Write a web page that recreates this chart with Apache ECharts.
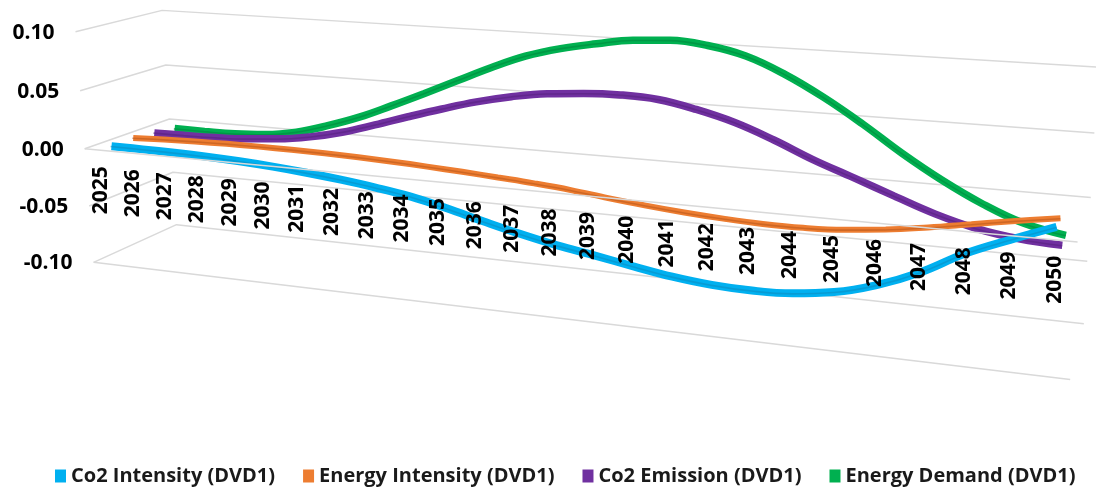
<!DOCTYPE html>
<html>
<head>
<meta charset="utf-8">
<script src="https://cdn.jsdelivr.net/npm/echarts/dist/echarts.min.js"></script>
<style>
  html, body { margin: 0; padding: 0; background: #ffffff; }
  #chart { width: 1096px; height: 491px; }
</style>
</head>
<body>
<div id="chart"></div>
<script>
// ---- data -------------------------------------------------------------
const years = [2025, 2026, 2027, 2028, 2029, 2030, 2031, 2032, 2033, 2034, 2035, 2036, 2037,
               2038, 2039, 2040, 2041, 2042, 2043, 2044, 2045, 2046, 2047, 2048, 2049, 2050];

const co2Intensity = [0.0000, -0.0002, -0.0006, -0.0014, -0.0027, -0.0046, -0.0071, -0.0102, -0.0140,
  -0.0187, -0.0254, -0.0330, -0.0402, -0.0465, -0.0515, -0.0568, -0.0617, -0.0648, -0.0658,
  -0.0645, -0.0600, -0.0512, -0.0382, -0.0210, -0.0075, 0.0050];

const energyIntensity = [0.0005, 0.0015, 0.0022, 0.0027, 0.0028, 0.0026, 0.0021, 0.0013, 0.0002,
  -0.0013, -0.0030, -0.0050, -0.0071, -0.0098, -0.0135, -0.0167, -0.0193, -0.0212, -0.0224,
  -0.0224, -0.0208, -0.0176, -0.0130, -0.0075, -0.0020, 0.0030];

const co2Emission = [-0.0017, -0.0015, -0.0010, 0.0003, 0.0027, 0.0069, 0.0134, 0.0221, 0.0314,
  0.0403, 0.0485, 0.0550, 0.0596, 0.0620, 0.0630, 0.0615, 0.0558, 0.0477, 0.0363, 0.0232,
  0.0119, 0.0003, -0.0108, -0.0192, -0.0240, -0.0258];

const energyDemand = [-0.0044, -0.0046, -0.0044, -0.0026, 0.0020, 0.0101, 0.0200, 0.0322, 0.0450,
  0.0582, 0.0713, 0.0830, 0.0912, 0.0970, 0.1018, 0.1035, 0.1012, 0.0947, 0.0823, 0.0661,
  0.0471, 0.0263, 0.0077, -0.0082, -0.0205, -0.0268];

const valueTicks = [0.10, 0.05, 0.00, -0.05, -0.10];
const seriesNames = ['Co2 Intensity (DVD1)', 'Energy Intensity (DVD1)', 'Co2 Emission (DVD1)', 'Energy Demand (DVD1)'];

// ---- 3-D box: perspective camera fitted to the plot-box corners --------
// Each anchor: [category fraction 0..1, value, depth 0 (front)..1 (back), screen x, screen y]
const boxAnchors = [
  [0, 0.10, 0, 75, 32], [0, 0.05, 0, 80, 91], [0, 0.00, 0, 85, 149], [0, -0.05, 0, 90, 206], [0, -0.10, 0, 93, 262],
  [0, 0.10, 1, 163, 10], [0, 0.05, 1, 165, 65], [0, 0.00, 1, 170, 119], [0, -0.05, 1, 172, 172], [0, -0.10, 1, 177, 225],
  [1, 0.10, 1, 1095, 67], [1, 0.05, 1, 1095, 133], [1, 0.00, 1, 1093, 198], [1, -0.05, 1, 1088, 261], [1, -0.10, 1, 1083, 324],
  [1, 0.00, 0, 1080, 242], [1, -0.10, 0, 1068, 379]
];

function solveLinear(M, r) {
  const n = r.length;
  const A = M.map((row, i) => row.concat([r[i]]));
  for (let c = 0; c < n; c++) {
    let piv = c;
    for (let k = c + 1; k < n; k++) if (Math.abs(A[k][c]) > Math.abs(A[piv][c])) piv = k;
    [A[c], A[piv]] = [A[piv], A[c]];
    for (let k = 0; k < n; k++) {
      if (k === c) continue;
      const f = A[k][c] / A[c][c];
      for (let j = c; j <= n; j++) A[k][j] -= f * A[c][j];
    }
  }
  return A.map((row, i) => row[n] / row[i]);
}

function fitCamera(anchors) {
  const rows = [], rhs = [];
  anchors.forEach(([X, val, Z, u, v]) => {
    const Y = val * 10, uu = u / 1000, vv = v / 1000;
    rows.push([X, Y, Z, 1, 0, 0, 0, 0, -uu * X, -uu * Y, -uu * Z]); rhs.push(uu);
    rows.push([0, 0, 0, 0, X, Y, Z, 1, -vv * X, -vv * Y, -vv * Z]); rhs.push(vv);
  });
  const n = 11;
  const M = [], r = [];
  for (let i = 0; i < n; i++) {
    M.push(new Array(n).fill(0)); r.push(0);
    for (let k = 0; k < rows.length; k++) {
      r[i] += rows[k][i] * rhs[k];
      for (let j = 0; j < n; j++) M[i][j] += rows[k][i] * rows[k][j];
    }
  }
  return solveLinear(M, r);
}

const cam = fitCamera(boxAnchors);
function project(X, val, Z) {
  const Y = val * 10;
  const w = cam[8] * X + cam[9] * Y + cam[10] * Z + 1;
  return [1000 * (cam[0] * X + cam[1] * Y + cam[2] * Z + cam[3]) / w,
          1000 * (cam[4] * X + cam[5] * Y + cam[6] * Z + cam[7]) / w];
}
const catX = i => (i + 0.5) / years.length;

// ---- series styling ----------------------------------------------------
const ribbons = [
  { name: seriesNames[0], values: co2Intensity,    depth: 0.125, color: '#00B0F0', edge: '#0B8DC2', width: 8 },
  { name: seriesNames[1], values: energyIntensity, depth: 0.375, color: '#ED7D31', edge: '#B9591C', width: 6 },
  { name: seriesNames[2], values: co2Emission,     depth: 0.625, color: '#7030A0', edge: '#56217F', width: 7.5 },
  { name: seriesNames[3], values: energyDemand,    depth: 0.875, color: '#00B050', edge: '#00893D', width: 7.5 }
];

const gridColor = '#D9D9D9';
const labelFont = { fontFamily: 'Open Sans', fontWeight: 'bold', fontSize: 21 };
const series = [];

function plainLine(points, z, color, width) {
  return {
    type: 'line', data: points, symbol: 'none', silent: true, z: z,
    lineStyle: { color: color, width: width }, animation: false
  };
}

// walls: side wall (front-left to back-left) then back wall (back-left to back-right)
valueTicks.forEach(v => {
  series.push(plainLine([project(0, v, 0), project(0, v, 1), project(1, v, 1)], 1, gridColor, 1.5));
});
// floor front edge
series.push(plainLine([project(0, -0.10, 0), project(1, -0.10, 0)], 1, gridColor, 1.5));

// ribbons, back to front
ribbons.slice().reverse().forEach(r => {
  series.push({
    type: 'line', name: r.name, symbol: 'none', smooth: 0.4, z: 2, animation: false,
    data: r.values.map((v, i) => project(catX(i), v, r.depth)),
    itemStyle: { color: r.color },
    lineStyle: { color: r.color, width: r.width }
  });
  series.push({
    type: 'line', symbol: 'none', smooth: 0.4, z: 2, silent: true, animation: false,
    data: r.values.map((v, i) => project(catX(i), v, r.depth - 0.01)),
    lineStyle: { color: r.edge, width: 1.6, opacity: 0.6 }
  });
});

// category axis line at 0 along the front edge
series.push(plainLine([project(0, 0, 0), project(1, 0, 0)], 3, gridColor, 1.5));

// year labels hanging below the front axis line
series.push({
  type: 'custom', z: 5, silent: true, animation: false,
  data: years.map((y, i) => { const p = project(catX(i), 0, 0); return [p[0], p[1], y]; }),
  renderItem: (params, api) => {
    const p = api.coord([api.value(0), api.value(1)]);
    return {
      type: 'text', x: p[0] + 1, y: p[1] + 16, rotation: Math.PI / 2,
      style: Object.assign({ text: String(api.value(2)), fill: '#000000', align: 'right', verticalAlign: 'middle' }, labelFont)
    };
  }
});

// value labels on the side wall
series.push({
  type: 'custom', z: 5, silent: true, animation: false,
  data: valueTicks.map(v => { const p = project(0, v, 0); return [p[0], p[1], v]; }),
  renderItem: (params, api) => {
    const p = api.coord([api.value(0), api.value(1)]);
    return {
      type: 'text', x: p[0] - 21, y: p[1] + 1,
      style: Object.assign({ text: api.value(2).toFixed(2), fill: '#000000', align: 'right', verticalAlign: 'middle' }, labelFont)
    };
  }
});

const chart = echarts.init(document.getElementById('chart'), null, { renderer: 'canvas' });
chart.setOption({
  animation: false,
  backgroundColor: '#ffffff',
  grid: { left: 0, right: 0, top: 0, bottom: 0 },
  xAxis: { type: 'value', min: 0, max: 1096, show: false },
  yAxis: { type: 'value', min: 0, max: 491, inverse: true, show: false },
  legend: {
    data: seriesNames, top: 466, left: 55, width: 1041, padding: 0, icon: 'rect',
    itemWidth: 11, itemHeight: 13, itemGap: 28,
    textStyle: { fontFamily: 'Open Sans', fontWeight: 'bold', fontSize: 20, color: '#1a1a1a' }
  },
  series: series
});
</script>
</body>
</html>
